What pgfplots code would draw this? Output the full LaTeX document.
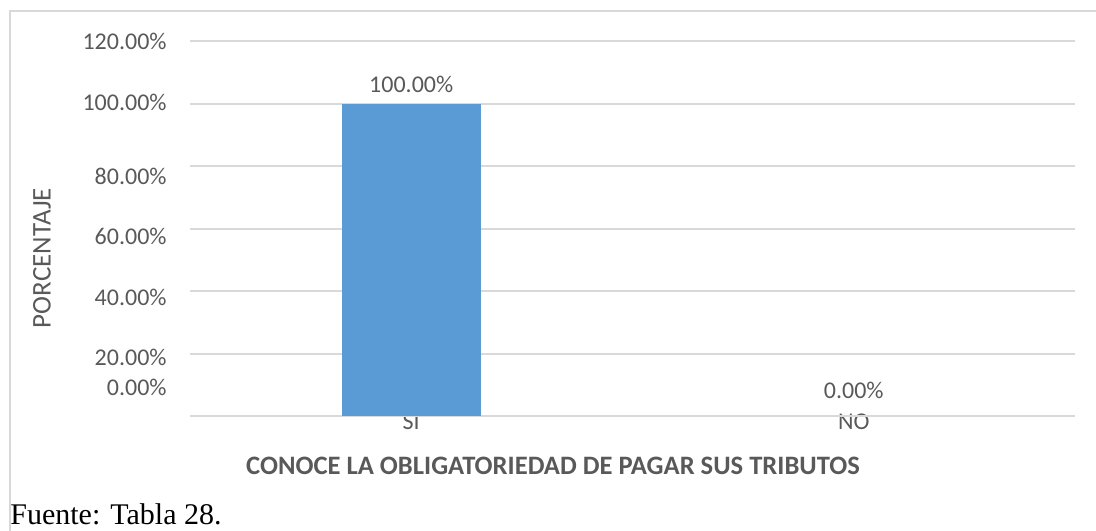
\documentclass[border=0pt]{standalone}
\usepackage{pgfplots}
\pgfplotsset{compat=1.18}
\usepackage{fontspec}
\setmainfont{Carlito}
\newfontfamily\timesfont{Liberation Serif}
\definecolor{txtgray}{HTML}{595959}
\definecolor{gridgray}{HTML}{D9D9D9}
\definecolor{barblue}{HTML}{5B9BD5}
\begin{document}
\begin{tikzpicture}[x=0.5pt,y=-0.5pt]
\useasboundingbox (0,0) rectangle (1096,530);
\draw[gridgray, line width=1pt] (10,11) rectangle (1110,560);
\begin{axis}[
  at={(95pt,-208pt)}, anchor=south west,
  scale only axis, width=442.5pt, height=187.5pt,
  xmin=-0.5, xmax=1.5, ymin=0, ymax=120,
  axis line style={draw=none},
  axis x line*=bottom,
  xtick={0,1}, xticklabels={SI,NO},
  major tick length=0pt,
  xticklabel style={font=\fontsize{12}{14}\selectfont, text=txtgray, anchor=center, yshift=-3pt},
  ytick={0,20,...,120}, yticklabels={},
  ymajorgrids, grid style={gridgray, line width=1pt},
  extra y ticks={9.0,18.9,38.1,57.6,76.8,100.2,120},
  extra y tick labels={0.00\%,20.00\%,40.00\%,60.00\%,80.00\%,100.00\%,120.00\%},
  extra y tick style={grid=none},
  yticklabel style={font=\fontsize{12}{14}\selectfont, text=txtgray, anchor=east, inner sep=0pt, xshift=-11.5pt},
  clip=false,
]
\draw[gridgray, line width=1pt] (axis cs:-0.5,0) -- (axis cs:1.5,0);
\addplot[ybar, bar width=0.314, bar shift=0pt, fill=barblue, draw=none,
  point meta=explicit symbolic, nodes near coords,
  nodes near coords style={font=\fontsize{12}{14}\selectfont, text=txtgray, anchor=center, yshift=9.5pt}]
  coordinates {(0,100) [100.00\%]};
\addplot[ybar, bar width=0.314, bar shift=0pt, fill=none, draw=none,
  point meta=explicit symbolic, nodes near coords,
  nodes near coords style={font=\fontsize{12}{14}\selectfont, text=txtgray, anchor=center, yshift=13pt}]
  coordinates {(1,0) [0.00\%]};
\end{axis}
\node[font=\fontsize{13.5}{15}\selectfont, text=txtgray, rotate=90] at (42,258) {PORCENTAJE};
\node[font=\fontsize{13.3}{15}\selectfont\bfseries, text=txtgray] at (553,466) {CONOCE LA OBLIGATORIEDAD DE PAGAR SUS TRIBUTOS};
\node[font=\timesfont\fontsize{15}{17}\selectfont, anchor=west, inner sep=0pt] at (10,514) {Fuente: Tabla 28.};
\end{tikzpicture}
\end{document}
